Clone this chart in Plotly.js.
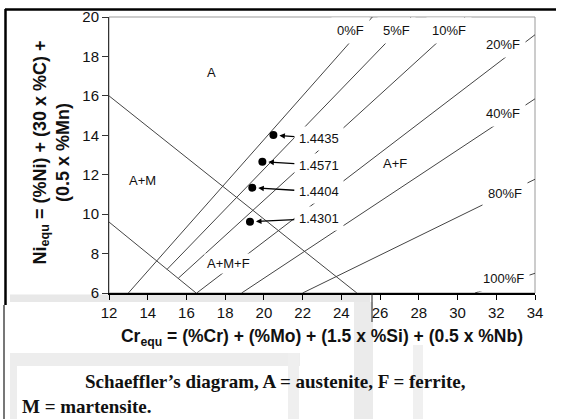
<!DOCTYPE html>
<html>
<head>
<meta charset="utf-8">
<script src="https://cdn.plot.ly/plotly-3.0.1.min.js"></script>
<style>html,body{margin:0;padding:0;background:#fff;}#chart{width:568px;height:419px;}</style>
</head>
<body>
<div id="chart"></div>
<script>
// Axis ticks
const xTickVals = [12, 14, 16, 18, 20, 22, 24, 26, 28, 30, 32, 34];
const yTickVals = [6, 8, 10, 12, 14, 16, 18, 20];

// Martensite boundaries (Cr_equ, Ni_equ)
const boundaryAMx = [12, 24.8];
const boundaryAMy = [16, 6];
const boundaryMx = [12, 16.5];
const boundaryMy = [9.6, 6];

// Ferrite iso-lines: start and end points
const ferriteNames = ['0%F', '5%F', '10%F', '20%F', '40%F', '80%F', '100%F'];
const ferriteX0 = [13.0, 15.0, 15.58, 16.53, 18.85, 22.0, 30.9];
const ferriteY0 = [6, 7.2, 6.75, 6, 6, 6, 6];
const ferriteX1 = [25.6, 27.6, 30.4, 34, 34, 34, 34];
const ferriteY1 = [20, 20, 20, 19.1, 15.85, 11.77, 7.0];
const ferriteLabelX = [24.45, 26.85, 29.56, 32.35, 32.35, 32.43, 32.35];
const ferriteLabelY = [19.34, 19.34, 19.34, 18.58, 15.08, 11.04, 6.76];

// Phase region labels
const regionNames = ['A', 'A+M', 'A+F', 'A+M+F'];
const regionX = [17.3, 13.73, 26.77, 18.16];
const regionY = [17.2, 11.73, 12.58, 7.5];

// Steel grades
const gradeNames = ['1.4435', '1.4571', '1.4404', '1.4301'];
const gradeCr = [20.49, 19.92, 19.40, 19.28];
const gradeNi = [14.01, 12.66, 11.34, 9.61];

const lineStyle = {color: '#444', width: 1};
const traces = [];
traces.push({x: boundaryAMx, y: boundaryAMy, mode: 'lines', line: lineStyle, hoverinfo: 'skip'});
traces.push({x: boundaryMx, y: boundaryMy, mode: 'lines', line: lineStyle, hoverinfo: 'skip'});
for (let i = 0; i < ferriteNames.length; i++) {
  traces.push({x: [ferriteX0[i], ferriteX1[i]], y: [ferriteY0[i], ferriteY1[i]],
    mode: 'lines', line: lineStyle, name: ferriteNames[i], hoverinfo: 'skip'});
}
traces.push({x: gradeCr, y: gradeNi, mode: 'markers', marker: {color: '#000', size: 8}, name: 'grades'});

const annotations = [];
const labFont = {family: 'Liberation Sans, Arial, sans-serif', size: 13, color: '#111'};
for (let i = 0; i < ferriteNames.length; i++) {
  annotations.push({x: ferriteLabelX[i], y: ferriteLabelY[i], xref: 'x', yref: 'y', text: ferriteNames[i],
    showarrow: false, bgcolor: '#fff', borderpad: 5, font: labFont});
}
for (let i = 0; i < regionNames.length; i++) {
  annotations.push({x: regionX[i], y: regionY[i], xref: 'x', yref: 'y', text: regionNames[i],
    showarrow: false, bgcolor: '#fff', borderpad: 2, font: labFont});
}
const gradeOffsets = [[45.5, 3.3], [56.5, 3.3], [66.5, 4], [68.8, -3.4]];
for (let i = 0; i < gradeNames.length; i++) {
  annotations.push({x: gradeCr[i], y: gradeNi[i], xref: 'x', yref: 'y', text: gradeNames[i],
    showarrow: true, ax: gradeOffsets[i][0], ay: gradeOffsets[i][1], arrowhead: 2, arrowsize: 0.85,
    arrowwidth: 1.3, arrowcolor: '#000', standoff: 6, bgcolor: '#fff', borderpad: 4, font: labFont});
}

// helpers for pixel -> paper
const L = 109, R = 535, T = 17, B = 293;
const px = v => (v - L) / (R - L);
const py = v => (B - v) / (B - T);

// y-axis title (two lines, rotated)
annotations.push({xref: 'paper', yref: 'paper', x: px(50.5), y: py(152), xanchor: 'center', yanchor: 'middle',
  textangle: -90, showarrow: false,
  text: 'Ni<sub>equ</sub> = (%Ni) + (30 x %C) +<br>(0.5 x %Mn)',
  font: {family: 'Liberation Sans, Arial, sans-serif', size: 18, weight: 700, color: '#111'}});

// caption
const capFont = {family: 'Liberation Serif, Times New Roman, serif', size: 19, color: '#111', weight: 700};
annotations.push({xref: 'paper', yref: 'paper', x: -0.061, y: -0.319, xanchor: 'left', yanchor: 'middle',
  text: 'Schaeffler’s diagram, A = austenite, F = ferrite,', showarrow: false, font: capFont});
annotations.push({xref: 'paper', yref: 'paper', x: -0.209, y: -0.413, xanchor: 'left', yanchor: 'middle',
  text: 'M = martensite.', showarrow: false, font: capFont});

const shapes = [
  // plot frame (gray top/right)
  {type: 'rect', xref: 'paper', yref: 'paper', x0: 0, x1: 1, y0: 0, y1: 1, line: {color: '#999', width: 1}, layer: 'below'},
  // scan artifacts
  {type: 'rect', xref: 'paper', yref: 'paper', x0: px(10), x1: px(370), y0: py(302), y1: py(294.5), fillcolor: '#e8e8e8', line: {width: 0}, layer: 'below'},
  {type: 'rect', xref: 'paper', yref: 'paper', x0: px(10), x1: px(300), y0: py(366), y1: py(353), fillcolor: '#ededed', line: {width: 0}, layer: 'below'},
  {type: 'rect', xref: 'paper', yref: 'paper', x0: px(10), x1: px(17), y0: py(419), y1: py(353), fillcolor: '#ededed', line: {width: 0}, layer: 'below'},
  {type: 'rect', xref: 'paper', yref: 'paper', x0: px(288), x1: px(299), y0: py(419), y1: py(353), fillcolor: '#efefef', line: {width: 0}, layer: 'below'},
  {type: 'rect', xref: 'paper', yref: 'paper', x0: px(354), x1: px(373), y0: py(419), y1: py(302), fillcolor: '#ebebeb', line: {width: 0}, layer: 'below'},
  {type: 'rect', xref: 'paper', yref: 'paper', x0: px(413), x1: px(423), y0: py(419), y1: py(345), fillcolor: '#f0f0f0', line: {width: 0}, layer: 'below'},
  // outer frame
  {type: 'line', xref: 'paper', yref: 'paper', x0: px(5), x1: px(556), y0: py(9.5), y1: py(9.5), line: {color: '#000', width: 2.5}},
  {type: 'line', xref: 'paper', yref: 'paper', x0: px(5.5), x1: px(5.5), y0: py(9), y1: py(305), line: {color: '#000', width: 2.5}},
  {type: 'line', xref: 'paper', yref: 'paper', x0: px(4), x1: px(4), y0: py(305), y1: py(419), line: {color: '#777', width: 2}},
  {type: 'line', xref: 'paper', yref: 'paper', x0: px(372), x1: px(372), y0: py(293), y1: py(322), line: {color: '#222', width: 1}}
];

const layout = {
  width: 568, height: 419,
  margin: {l: L, r: 568 - R, t: T, b: 419 - B, pad: 0},
  paper_bgcolor: '#fff', plot_bgcolor: '#fff',
  showlegend: false,
  font: {family: 'Liberation Sans, Arial, sans-serif', size: 13, color: '#111'},
  xaxis: {range: [12, 34], tickvals: xTickVals, ticktext: xTickVals.map(String), ticks: 'outside', ticklen: 5,
    tickcolor: '#000', showline: true, linecolor: '#000', linewidth: 1.5, showgrid: false, zeroline: false,
    tickfont: {size: 15, color: '#111'},
    title: {text: 'Cr<sub>equ</sub> = (%Cr) + (%Mo) + (1.5 x %Si) + (0.5 x %Nb)', font: {size: 17.5, weight: 700, color: '#111'}, standoff: 10}},
  yaxis: {range: [6, 20], tickvals: yTickVals, ticktext: yTickVals.map(String), ticks: 'outside', ticklen: 6,
    tickcolor: '#333', showline: true, linecolor: '#333', linewidth: 1, showgrid: false, zeroline: false,
    tickfont: {size: 15, color: '#111'}},
  annotations: annotations,
  shapes: shapes
};

Plotly.newPlot('chart', traces, layout, {staticPlot: true, displayModeBar: false});
</script>
</body>
</html>
